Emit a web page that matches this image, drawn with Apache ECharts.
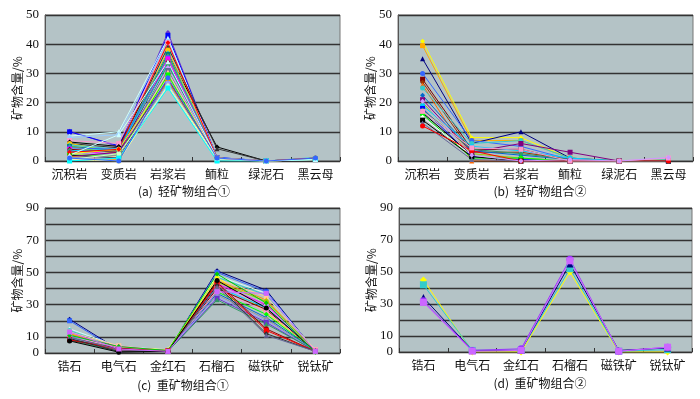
<!DOCTYPE html>
<html>
<head>
<meta charset="utf-8">
<script src="https://cdn.jsdelivr.net/npm/echarts@6/dist/echarts.min.js"></script>
<style>
  html, body { margin: 0; padding: 0; background: #fff; }
  #main { width: 700px; height: 399px; }
</style>
</head>
<body>
<div id="main"></div>
<script>
  // categories
  var lightCats = ['沉积岩', '变质岩', '岩浆岩', '鲕粒', '绿泥石', '黑云母'];
  var heavyCats = ['锆石', '电气石', '金红石', '石榴石', '磁铁矿', '锐钛矿'];

  // (a) 轻矿物组合① — one row per sample
  var lightA = [
    [10.2, 4.8, 44, 1, 0, 1], [10, 5.2, 43, 1.2, 0, 0.8], [8.5, 10, 42, 1, 0, 0.5],
    [8, 9, 41, 0.8, 0, 0.6], [7, 6, 40.5, 1, 0, 0.5], [6.5, 5, 37, 4.8, 0, 1],
    [6, 4.5, 39, 4.2, 0, 0.8], [6, 3, 38, 1, 0, 0.5], [5.5, 4, 37, 1, 0, 1.2],
    [5, 3.5, 36.5, 0.5, 0, 0.5], [5, 2.5, 36, 1, 0, 0.8], [4.5, 4, 35.5, 1.2, 0, 1],
    [4, 2, 35, 0.5, 0, 0.5], [4, 3, 34, 1, 0, 0.5], [3.5, 4, 33.5, 1, 0, 0.8],
    [3.5, 1, 33, 0.8, 0, 0.5], [3, 2, 32, 1, 0, 1], [3, 3.5, 31, 0.5, 0, 0.5],
    [2.5, 1.5, 30.5, 1, 0, 0.5], [2.5, 4, 29, 1, 0, 1], [2, 2, 29.5, 0.5, 0, 0.5],
    [2, 1, 27.5, 1, 0, 0.8], [1.5, 3, 28, 1, 0, 0.5], [1.5, 0.5, 27.5, 0.5, 0, 0.5],
    [1, 2, 27, 1, 0, 1], [1, 1, 26.5, 0.5, 0, 0.5], [0.5, 0, 26, 1, 0, 0.5],
    [0.5, 2.5, 25.5, 0.5, 0, 0.8], [0, 1, 25, 0, 0, 0.5], [3, 4, 40.5, 1, 0, 1],
    [2, 9, 34, 1, 0, 0.5], [1, 0, 28.5, 1, 0, 1]
  ];

  // (b) 轻矿物组合②
  var lightB = [
    [41, 8, 8, 1, 0, 0.5], [39.5, 7, 7, 1, 0, 0.5], [35, 6, 10, 1, 0, 0],
    [30, 7, 5, 0.5, 0, 0], [28, 4, 4, 0, 0, 0], [27, 3, 3, 0.5, 0, 0],
    [26, 0, 0, 0, 0, 0], [25, 6, 7, 1, 0, 0.5], [22.5, 3.5, 2, 0.5, 0, 0],
    [21, 3, 6, 3, 0, 0], [20, 2.5, 1, 0, 0, 0], [19, 5, 3.5, 1, 0, 0],
    [18, 1.5, 0.5, 0, 0, 0], [17.5, 4, 2.5, 0.5, 0, 0], [16.5, 2, 0, 0, 0, 0],
    [16, 1, 1, 0, 0, 0], [15, 2, 0, 0, 0, 0], [14, 1.5, 0, 0, 0, 0],
    [13, 0.5, 0, 0, 0, 0], [12, 3.5, 0, 0, 0, 0], [17, 4.5, 4, 0, 0, 1],
    [20.5, 2, 0, 0.5, 0, 1.2]
  ];

  // (c) 重矿物组合①
  var heavyC = [
    [21, 2, 1, 51, 39, 1], [20, 1.5, 1, 50, 38, 1], [15, 4, 2, 48, 37, 1.5],
    [14, 3, 1.5, 47, 36, 1], [13, 4.5, 1, 46, 35, 2], [12, 3.5, 2, 47, 25, 2],
    [12, 3, 1.5, 45, 33, 1], [11.5, 2.5, 1, 44, 32, 1.5], [11, 4, 1.5, 43, 30, 1],
    [11, 2, 1, 42, 29, 1], [10.5, 3, 1.5, 41, 28, 1.5], [10, 2.5, 1, 40, 27, 1],
    [10, 3.5, 1, 39, 26, 2], [9.5, 1, 1.5, 38, 24, 1], [9.5, 2, 1, 37, 22, 1.5],
    [9, 3, 1, 36, 21, 1], [9, 1.5, 1.5, 35, 20, 1], [8.5, 2, 1, 34, 19, 1],
    [8, 1, 1, 33, 18, 1.5], [8, 3, 1, 44, 15, 1], [8.5, 2, 1.5, 43, 14, 1],
    [9, 1, 1, 42, 12, 1], [10, 2, 1, 41, 11, 1], [7.5, 0.5, 1, 45, 28, 1],
    [11, 4, 1.5, 49, 31, 0.5], [13, 2.5, 1, 38, 37, 1]
  ];

  // (d) 重矿物组合②
  var heavyD = [
    [45, 0, 0, 50, 0, 0], [42, 1, 1, 52, 0.5, 1.5], [34, 1, 1, 55, 1, 2.5],
    [32, 1, 2, 58, 0.5, 3], [31, 0.5, 1, 57, 0.5, 3]
  ];

  var captions = ['(a)  轻矿物组合①', '(b)  轻矿物组合②', '(c)  重矿物组合①', '(d)  重矿物组合②'];
  var lightTicks = [0, 10, 20, 30, 40, 50];
  var heavyTicks = [0, 10, 30, 50, 70, 90];

  // Excel-like colours, one per row of each panel
  var colorsA = ['#6633cc', '#0000ff', '#ccffff', '#99ccff', '#ff99cc', '#000000', '#333333', '#ffcc00',
    '#33cccc', '#008080', '#99cc00', '#3366ff', '#ff00ff', '#800000', '#00ccff', '#339966',
    '#cc99ff', '#666699', '#ffcc99', '#ffff00', '#00ff00', '#000000', '#800080', '#ff9900',
    '#969696', '#9999ff', '#ffff99', '#ccffcc', '#00ffff', '#ff0000', '#ccffff', '#3366ff'];
  var colorsB = ['#ffff00', '#ffaa00', '#000080', '#3366ff', '#800000', '#993300', '#ff6600', '#33cccc',
    '#0066cc', '#800080', '#99cc00', '#00ccff', '#0000ff', '#339966', '#000000', '#00ff00',
    '#ffffff', '#000000', '#666699', '#ff0000', '#ff99cc', '#cc99ff'];
  var colorsC = ['#000080', '#3366ff', '#ccffff', '#33cccc', '#ffcc99', '#ffff00', '#ff9900', '#99cc00',
    '#ff00ff', '#cc99ff', '#00ccff', '#800000', '#ff99cc', '#00ff00', '#0066cc', '#969696',
    '#9999ff', '#6633cc', '#339966', '#990000', '#ff0000', '#333333', '#666699', '#000000',
    '#00cc00', '#cc66ff'];
  var colorsD = ['#ffff00', '#33cccc', '#000080', '#9933ff', '#cc66ff'];
  var symbols = ['diamond', 'rect', 'triangle', 'circle', 'rect', 'diamond', 'triangle', 'circle'];

  var cjk = '"Noto Sans CJK SC", sans-serif';
  var serif = '"Liberation Serif", "DejaVu Serif", serif';

  var grids = [
    { left: 45, top: 15, width: 295, height: 146 },
    { left: 398, top: 15, width: 295, height: 146 },
    { left: 45, top: 208, width: 295, height: 145 },
    { left: 399, top: 208, width: 293, height: 144 }
  ];

  var grid = grids.map(function (g) {
    return Object.assign({ show: true, backgroundColor: '#b4c3c6', borderColor: '#777', borderWidth: 1 }, g);
  });

  var xAxis = [0, 1, 2, 3].map(function (i) {
    return {
      type: 'category', gridIndex: i,
      data: i < 2 ? lightCats : heavyCats,
      axisLine: { lineStyle: { color: '#333', width: 1 } },
      axisTick: { show: true, inside: true, length: 4, lineStyle: { color: '#333' } },
      axisLabel: { color: '#111', fontFamily: cjk, fontSize: 12, margin: 7 }
    };
  });

  var yAxis = [0, 1, 2, 3].map(function (i) {
    var light = i < 2;
    var ticks = light ? lightTicks : heavyTicks;
    return {
      type: 'value', gridIndex: i, min: 0, max: light ? 50 : 90, interval: 10,
      name: '矿物含量/%', nameLocation: 'middle', nameGap: 22, nameMoveOverlap: false,
      nameTextStyle: { color: '#111', fontFamily: cjk, fontSize: 12 },
      axisLine: { show: true, lineStyle: { color: '#555' } },
      axisTick: { show: false },
      axisLabel: {
        color: '#111', fontFamily: serif, fontSize: 13, margin: 6,
        formatter: function (v) { return ticks.indexOf(v) >= 0 ? String(v) : ''; }
      },
      splitLine: { show: true, lineStyle: { color: '#333', width: 1.4 } }
    };
  });

  var series = [];
  [[lightA, colorsA], [lightB, colorsB], [heavyC, colorsC], [heavyD, colorsD]].forEach(function (p, gi) {
    p[0].forEach(function (row, k) {
      var col = p[1][k % p[1].length];
      series.push({
        type: 'line', xAxisIndex: gi, yAxisIndex: gi, data: row,
        symbol: symbols[k % symbols.length], symbolSize: gi === 3 ? 7 : 5,
        showSymbol: true, animation: false,
        lineStyle: { width: 1, color: col }, itemStyle: { color: col }
      });
    });
  });

  var capPos = [[184, 191], [540, 191], [183, 385], [540, 383]];
  var graphic = captions.map(function (t, i) {
    return {
      type: 'text', x: capPos[i][0], y: capPos[i][1],
      style: { text: t, fill: '#111', font: '12px ' + cjk, textAlign: 'center', textVerticalAlign: 'middle' }
    };
  });

  var myChart = echarts.init(document.getElementById('main'));
  myChart.setOption({
    animation: false,
    grid: grid, xAxis: xAxis, yAxis: yAxis, series: series, graphic: graphic
  });
</script>
</body>
</html>
